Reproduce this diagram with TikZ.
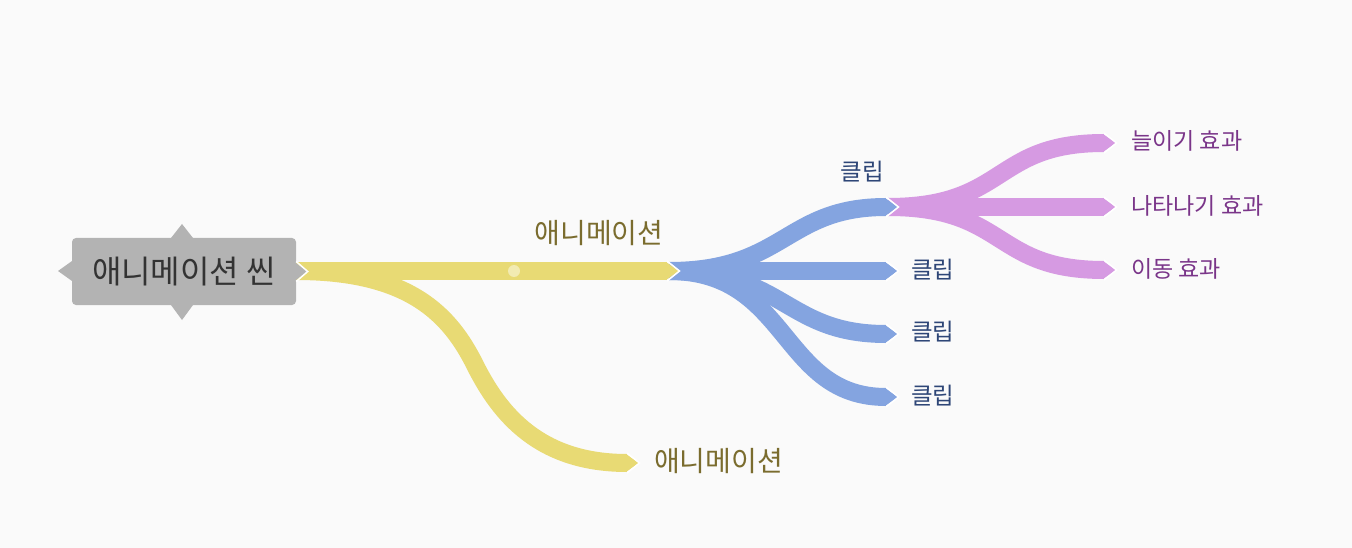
\documentclass[tikz,border=0pt]{standalone}
\usepackage{fontspec}
\setmainfont{Noto Sans CJK KR}
\definecolor{bgc}{HTML}{FAFAFA}
\definecolor{ylw}{HTML}{E8DA74}
\definecolor{blu}{HTML}{84A4E0}
\definecolor{pnk}{HTML}{D69AE2}
\definecolor{gry}{HTML}{B3B3B3}
\definecolor{ytx}{HTML}{7A6C2E}
\definecolor{btx}{HTML}{2E4677}
\definecolor{ptx}{HTML}{7A3589}
\definecolor{ctx}{HTML}{333333}
\newcommand\tipat[3]{%
  \fill[#3] ($(#1)+(-1,-9)$) -- ($(#1)+(12,0)$) -- ($(#1)+(-1,9)$) -- cycle;
  \draw[white,line width=1.5pt,line join=miter] ($(#1)+(0,-10)$) -- ($(#1)+(12.5,0)$) -- ($(#1)+(0,10)$);}
\usetikzlibrary{calc}
\tikzset{
  band/.style={line width=18pt,line cap=butt},
  ylab/.style={text=ytx,font=\fontsize{28}{32}\selectfont,inner sep=0pt},
  blab/.style={text=btx,font=\fontsize{23.5}{28}\selectfont,inner sep=0pt,anchor=west},
  plab/.style={text=ptx,font=\fontsize{23}{27}\selectfont,inner sep=0pt,anchor=west},
}
\begin{document}
\begin{tikzpicture}[x=1pt,y=-1pt]
\fill[bgc] (0,0) rectangle (1352,548);
\useasboundingbox (0,0) rectangle (1352,548);
% coordinates
\coordinate (c0) at (296,271);
\coordinate (y1) at (667,271);
\coordinate (ym) at (475,365);
\coordinate (y2) at (627,463);
\coordinate (b0) at (669,271);
\coordinate (b1) at (886,207);
\coordinate (b2) at (886,271);
\coordinate (b3) at (886,334);
\coordinate (b4) at (886,397);
\coordinate (p0) at (888,207);
\coordinate (p1) at (1104,143);
\coordinate (p2) at (1104,207);
\coordinate (p3) at (1104,270);
% pink bands
\draw[band,pnk] (p0) .. controls (1008,207) and (992,143) .. (p1);
\draw[band,pnk] (p0) -- (p2);
\draw[band,pnk] (p0) .. controls (1008,207) and (992,270) .. (p3);
% blue bands
\draw[band,blu] (b0) .. controls (785,271) and (785,207) .. (b1);
\draw[band,blu] (b0) -- (b2);
\draw[band,blu] (b0) .. controls (785,271) and (785,334) .. (b3);
\draw[band,blu] (b0) .. controls (790,271) and (780,397) .. (b4);
% yellow bands
\draw[band,ylw] (c0) -- (y1);
\draw[band,ylw] (c0) .. controls (410,271) and (450,315) .. (ym)
                     .. controls (500,415) and (540,463) .. (y2);
\fill[ylw!55!white] (514,271) circle (6);
% tips
\tipat{y1}{}{ylw}
\tipat{y2}{}{ylw}
\tipat{b1}{}{blu}
\tipat{b2}{}{blu}
\tipat{b3}{}{blu}
\tipat{b4}{}{blu}
\tipat{p1}{}{pnk}
\tipat{p2}{}{pnk}
\tipat{p3}{}{pnk}
% central node
\fill[gry] (182,224) -- (193,238) -- (171,238) -- cycle;
\fill[gry] (182,320) -- (193,305) -- (171,305) -- cycle;
\fill[gry] (58,271) -- (72,261) -- (72,281) -- cycle;
\node[fill=gry,rounded corners=4pt,minimum width=224pt,minimum height=67pt,inner sep=0pt,
      text=ctx,font=\fontsize{32}{36}\selectfont] (root) at (184,271.5) {애니메이션 씬};
\fill[gry] ($(root.east)+(-1,-9)$) -- ($(root.east)+(11,0)$) -- ($(root.east)+(-1,9)$) -- cycle;
\draw[white,line width=1.5pt] ($(root.east)+(0,-10)$) -- ($(root.east)+(11.5,0)$) -- ($(root.east)+(0,10)$);
% labels
\node[ylab] (l1) at (599,233) {애니메이션};
\node[ylab,anchor=west] (l2) at (654,461) {애니메이션};
\node[text=btx,font=\fontsize{23.5}{28}\selectfont,inner sep=0pt] (k1) at (862,172) {클립};
\node[blab] (k2) at (911,270) {클립};
\node[blab] (k3) at (911,332) {클립};
\node[blab] (k4) at (911,396) {클립};
\node[plab] (e1) at (1131,141) {늘이기 효과};
\node[plab] (e2) at (1131,206) {나타나기 효과};
\node[plab] (e3) at (1131,269) {이동 효과};
\end{tikzpicture}
\end{document}
